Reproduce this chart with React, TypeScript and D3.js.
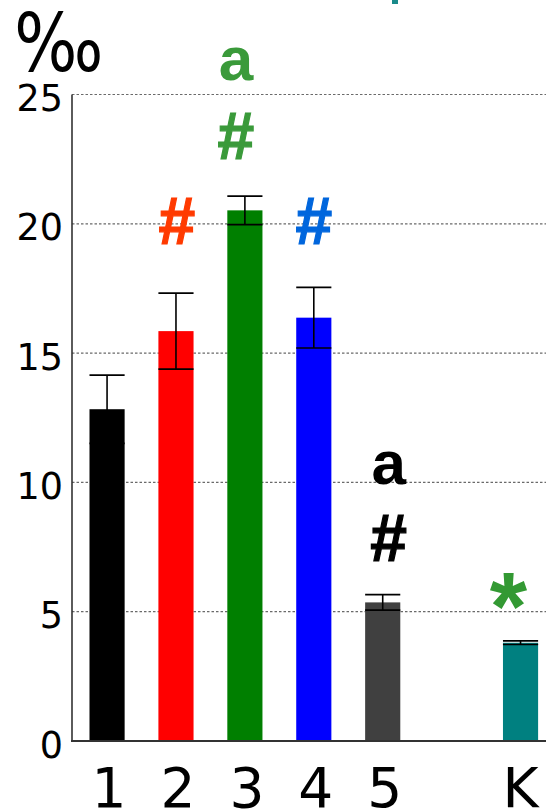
import React from "react";
import * as d3 from "d3";

// Group labels, in the order they are plotted; a blank slot separates the control group "K".
const categories = ["1", "2", "3", "4", "5", "K"];
const means = [12.83, 15.85, 20.52, 16.37, 5.36, 3.8];
const errors = [1.32, 1.47, 0.55, 1.17, 0.3, 0.07];
const barColors = ["#000000", "#ff0000", "#007f00", "#0000ff", "#404040", "#008080"];
const yTicks = [0, 5, 10, 15, 20, 25];
const unitLabel = "‰";

// Significance marks: which group, the symbol, its colour and the value its baseline sits at.
const markGroups = ["2", "3", "3", "4", "5", "5", "K"];
const markSymbols = ["#", "#", "a", "#", "#", "a", "*"];
const markColors = ["#ff3a00", "#3a9a3a", "#3a9a3a", "#0066dd", "#000000", "#000000", "#339933"];
const markLevels = [19.2, 22.5, 25.55, 19.2, 6.95, 9.94, 3.95];

const W = 546;
const H = 810;

export default function App() {
  const slots = [...categories.slice(0, 5), "", categories[5]];
  const x = d3
    .scaleBand<string>()
    .domain(slots)
    .range([72.4, 555.2])
    .paddingInner(0.49)
    .paddingOuter(0.248);
  const y = d3.scaleLinear().domain([0, 25]).range([741, 94.5]);
  const bw = x.bandwidth();
  const cx = (c: string) => (x(c) as number) + bw / 2;

  // small horizontal nudges of the symbols relative to their bar centre
  const nudge = (g: string) =>
    g === "3" ? -9 : g === "5" ? 6 : g === "K" ? -12 : g === "2" ? 1 : 0;

  return (
    <svg
      width={W}
      height={H}
      style={{ position: "absolute", left: 0, top: 0, background: "#fff" }}
    >
      {/* clipped title above the frame */}
      <rect x={392} y={0} width={6} height={4} fill="#1a8a8a" />

      {/* horizontal grid */}
      {yTicks.filter((t) => t > 0).map((t) => (
        <line
          key={"g" + t}
          x1={72}
          x2={W}
          y1={y(t)}
          y2={y(t)}
          stroke="#6a6a6a"
          strokeWidth={1.2}
          strokeDasharray="2.5,2"
        />
      ))}

      {/* bars */}
      {categories.map((c, i) => (
        <rect
          key={"b" + c}
          x={x(c)}
          y={y(means[i])}
          width={bw}
          height={y(0) - y(means[i])}
          fill={barColors[i]}
        />
      ))}

      {/* error bars */}
      {categories.map((c, i) => {
        const x0 = x(c) as number;
        const hi = y(means[i] + errors[i]);
        const lo = y(means[i] - errors[i]);
        return (
          <g key={"e" + c} stroke="#000" strokeWidth={1.6}>
            <line x1={cx(c)} x2={cx(c)} y1={hi} y2={lo} />
            <line x1={x0} x2={x0 + bw} y1={hi} y2={hi} />
            <line x1={x0} x2={x0 + bw} y1={lo} y2={lo} />
          </g>
        );
      })}

      {/* axes */}
      <line x1={72} x2={72} y1={y(25)} y2={y(0)} stroke="#333" strokeWidth={1.6} />
      <line x1={71} x2={W} y1={y(0)} y2={y(0)} stroke="#333" strokeWidth={2} />

      {/* y tick labels */}
      {yTicks.map((t) => (
        <text
          key={"t" + t}
          x={63}
          y={y(t) + 16.5}
          textAnchor="end"
          fontFamily="DejaVu Sans"
          fontSize={36.5}
          fill="#000"
        >
          {t}
        </text>
      ))}

      {/* unit, set in a slightly condensed per-mille glyph */}
      <g transform="translate(14.3,71) scale(0.83,1)">
        <text x={0} y={0} fontFamily="DejaVu Sans" fontSize={80} fill="#000">
          {unitLabel}
        </text>
      </g>

      {/* category labels */}
      {categories.map((c) => (
        <text
          key={"x" + c}
          x={cx(c) + (c === "K" ? 0 : 2)}
          y={807}
          textAnchor="middle"
          fontFamily="DejaVu Sans"
          fontSize={55}
          fill="#000"
        >
          {c}
        </text>
      ))}

      {/* significance marks */}
      {markSymbols.map((s, i) => (
        <text
          key={"m" + i}
          x={cx(markGroups[i]) + nudge(markGroups[i])}
          y={y(markLevels[i])}
          textAnchor="middle"
          fontFamily="Liberation Sans"
          fontWeight="bold"
          fontSize={s === "*" ? 96 : s === "#" ? 66 : 62}
          fill={markColors[i]}
          stroke={s === "#" ? markColors[i] : "none"}
          strokeWidth={s === "#" ? 1.2 : 0}
        >
          {s}
        </text>
      ))}
    </svg>
  );
}
